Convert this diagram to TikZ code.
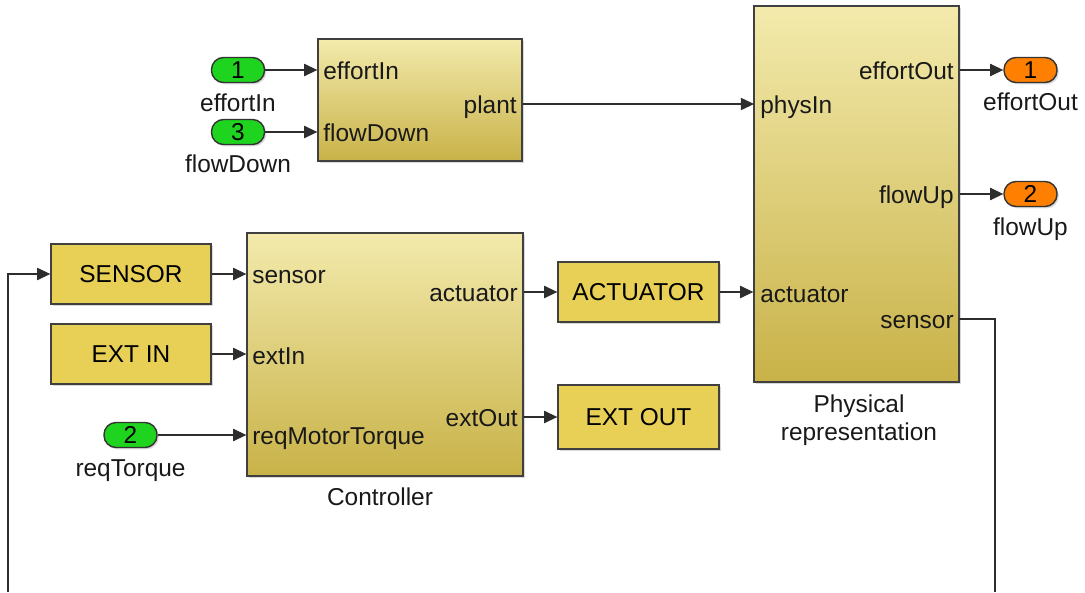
\documentclass[tikz,border=0pt]{standalone}
\usepackage{fontspec}
\setmainfont{Liberation Sans}
\usetikzlibrary{arrows.meta,shadows}
\definecolor{subtop}{RGB}{243,234,172}
\definecolor{subbot}{RGB}{200,178,72}
\definecolor{blkfill}{RGB}{232,207,85}
\definecolor{inportc}{RGB}{30,212,30}
\definecolor{outportc}{RGB}{255,128,0}
\definecolor{wirec}{RGB}{45,45,45}

\begin{document}
\begin{tikzpicture}[x=0.02cm,y=-0.02cm,
    font=\fontsize{13.9}{16}\selectfont,
    subsys/.style={draw=black!75,line width=0.8pt,top color=subtop,bottom color=subbot,
      inner sep=0pt,drop shadow={shadow xshift=1.2pt,shadow yshift=-1.2pt,opacity=0.3}},
    gblock/.style={draw=black!75,line width=0.8pt,fill=blkfill,inner sep=0pt,
      minimum width=32mm,minimum height=12mm,
      drop shadow={shadow xshift=1.2pt,shadow yshift=-1.2pt,opacity=0.3}},
    pill/.style={draw=black!80,line width=0.8pt,rounded corners=2.4mm,inner sep=0pt,
      minimum width=10.6mm,minimum height=5mm,
      drop shadow={shadow xshift=1pt,shadow yshift=-1pt,opacity=0.3}},
    inp/.style={pill,fill=inportc},
    outp/.style={pill,fill=outportc},
    lbl/.style={inner sep=0pt,text=black!90},
    sig/.style={draw=wirec,line width=0.6pt,-{Triangle[length=7.5pt,width=7pt]}},
    wire/.style={draw=wirec,line width=0.6pt}]
  \useasboundingbox (0,0) rectangle (1085,592);

  % subsystems
  \node[subsys,minimum width=40.8mm,minimum height=24.4mm] (plant) at (420,100) {};
  \node[subsys,minimum width=41mm,minimum height=75.2mm] (phys) at (856.5,194) {};
  \node[subsys,minimum width=55.2mm,minimum height=48.6mm] (ctrl) at (385,354.5) {};

  % port names
  \node[lbl,anchor=base west] at (323,79) {effortIn};
  \node[lbl,anchor=base west] at (323,141) {flowDown};
  \node[lbl,anchor=base east] at (517,113) {plant};

  \node[lbl,anchor=base west] at (760,113) {physIn};
  \node[lbl,anchor=base west] at (760,302) {actuator};
  \node[lbl,anchor=base east] at (954,79) {effortOut};
  \node[lbl,anchor=base east] at (954,203) {flowUp};
  \node[lbl,anchor=base east] at (954,328) {sensor};

  \node[lbl,anchor=base west] at (252,283) {sensor};
  \node[lbl,anchor=base west] at (252,364) {extIn};
  \node[lbl,anchor=base west] at (252,444) {reqMotorTorque};
  \node[lbl,anchor=base east] at (518,301) {actuator};
  \node[lbl,anchor=base east] at (518,426) {extOut};

  % block names
  \node[lbl,anchor=base] (ctrlname) at (380,505) {Controller};
  \node[lbl,anchor=base] (physname) at (859,412) {Physical};
  \node[lbl,anchor=base] (physname2) at (859,440) {representation};

  % plain blocks
  \node[gblock] (sensorblk) at (131,274) {SENSOR};
  \node[gblock] (extinblk) at (131,354) {EXT IN};
  \node[gblock,minimum width=32.2mm] (actblk) at (638.5,292) {ACTUATOR};
  \node[gblock,minimum width=32.2mm,minimum height=12.8mm] (extoutblk) at (638.5,417) {EXT OUT};

  % in- and outports
  \node[inp] (inEffort) at (238,70) {1};
  \node[inp] (inFlow) at (238,132) {3};
  \node[inp] (inTorque) at (130.5,435) {2};
  \node[outp] (outEffort) at (1030.5,70) {1};
  \node[outp] (outFlow) at (1030.5,194) {2};
  \node[lbl,anchor=base] at (238,111) {effortIn};
  \node[lbl,anchor=base] at (238,172) {flowDown};
  \node[lbl,anchor=base] at (130.5,476) {reqTorque};
  \node[lbl,anchor=base] at (1030.5,110) {effortOut};
  \node[lbl,anchor=base] at (1030.5,235) {flowUp};

  \coordinate (physIn) at (754,104);
  \coordinate (physSens) at (959,319);
  \coordinate (fbR) at (995,592);
  \coordinate (fbL) at (8,592);

  % signal lines
  \draw[sig] (inEffort.east) -- (inEffort.east -| plant.west);
  \draw[sig] (inFlow.east) -- (inFlow.east -| plant.west);
  \draw[sig] (plant.east |- physIn) -- (physIn);
  \draw[sig] (phys.east |- outEffort) -- (outEffort.west);
  \draw[sig] (phys.east |- outFlow) -- (outFlow.west);

  \draw[sig] (sensorblk.east) -- (sensorblk.east -| ctrl.west);
  \draw[sig] (extinblk.east) -- (extinblk.east -| ctrl.west);
  \draw[sig] (inTorque.east) -- (inTorque.east -| ctrl.west);
  \draw[sig] (ctrl.east |- actblk) -- (actblk.west);
  \draw[sig] (ctrl.east |- extoutblk) -- (extoutblk.west);
  \draw[sig] (actblk.east) -- (actblk.east -| phys.west);

  % feedback from the plant sensor
  \draw[wire] (physSens) -| (fbR);
  \draw[sig] (fbL) |- (sensorblk.west);
\end{tikzpicture}
\end{document}
